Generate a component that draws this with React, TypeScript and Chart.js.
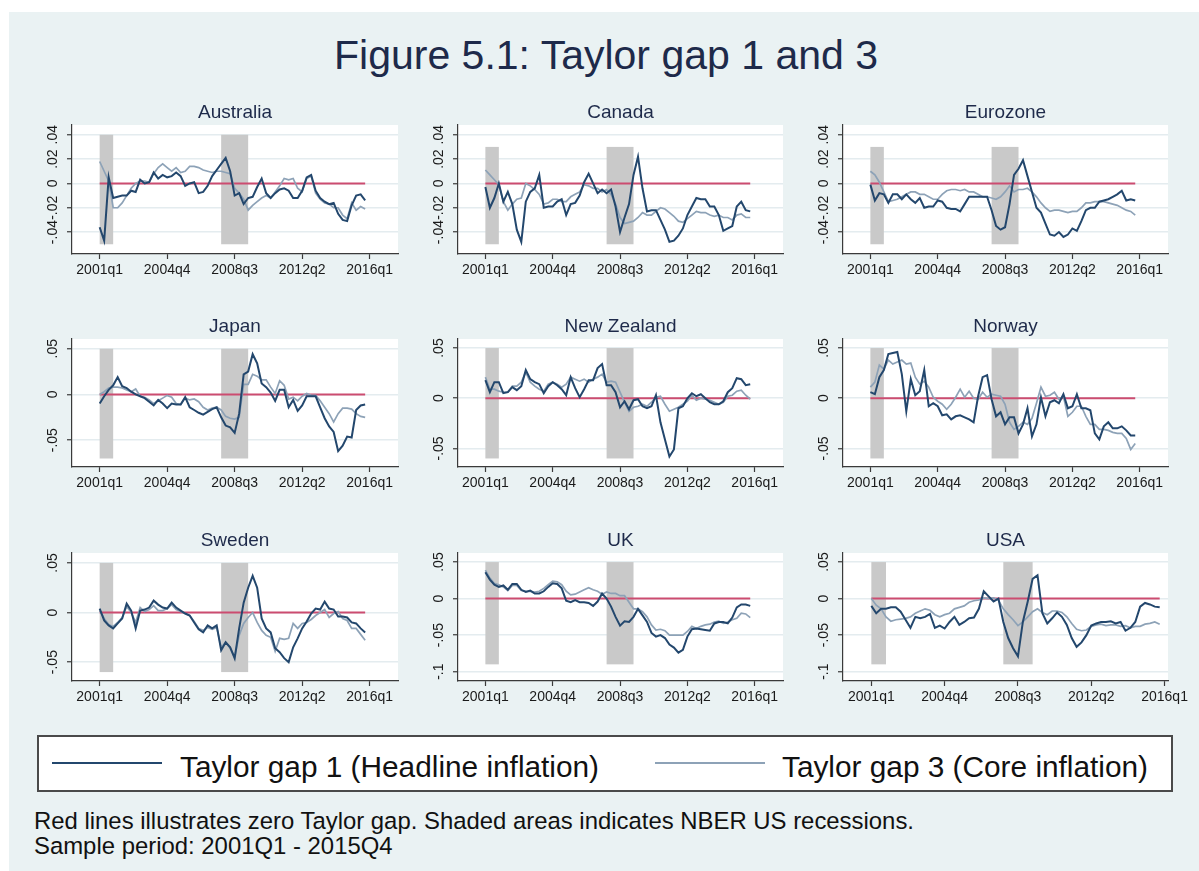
import React, { useEffect, useRef } from "react";
import { Chart, registerables } from "chart.js";

Chart.register(...registerables);

const FONT = '"Liberation Sans", Arial, Helvetica, sans-serif';

// ---------- data ----------
const X_TICKS = [0, 15, 30, 45, 60];
const X_LABELS = ["2001q1", "2004q4", "2008q3", "2012q2", "2016q1"];
const RECESSION_START = [0, 27];
const RECESSION_END = [3, 33];
const ZERO_FROM = 0;
const ZERO_TO = 59;

const Y_TICKS_A = [-0.04, -0.02, 0, 0.02, 0.04];
const Y_LABELS_A = ["-.04", "-.02", "0", ".02", ".04"];
const Y_TICKS_B = [-0.05, 0, 0.05];
const Y_LABELS_B = ["-.05", "0", ".05"];
const Y_TICKS_C = [-0.1, -0.05, 0, 0.05];
const Y_LABELS_C = ["-.1", "-.05", "0", ".05"];

const AUS_G1 = [-0.036,-0.047,0.005,-0.012,-0.011,-0.010,-0.010,-0.006,-0.007,0.003,0.000,0.001,0.009,0.004,0.007,0.005,0.006,0.009,0.006,-0.002,0.000,0.001,-0.008,-0.007,-0.002,0.006,0.011,0.016,0.021,0.010,-0.010,-0.008,-0.017,-0.012,-0.011,-0.003,0.004,-0.008,-0.012,-0.008,-0.005,-0.004,-0.006,-0.012,-0.012,-0.006,0.005,0.007,-0.006,-0.012,-0.015,-0.017,-0.016,-0.025,-0.030,-0.031,-0.018,-0.010,-0.009,-0.014];
const AUS_G3 = [0.018,0.010,0.002,-0.020,-0.020,-0.016,-0.010,-0.004,0.000,0.002,0.002,0.001,0.008,0.013,0.016,0.013,0.010,0.013,0.009,0.010,0.014,0.014,0.013,0.011,0.010,0.009,0.010,0.010,0.009,0.008,-0.004,-0.008,-0.013,-0.022,-0.018,-0.015,-0.012,-0.010,-0.012,-0.007,-0.002,0.004,0.003,0.004,-0.004,-0.007,0.004,0.006,-0.008,-0.013,-0.016,-0.017,-0.020,-0.020,-0.026,-0.029,-0.016,-0.022,-0.019,-0.021];

const CAN_G1 = [-0.003,-0.020,-0.012,0.000,-0.015,-0.007,-0.017,-0.038,-0.048,-0.015,-0.007,-0.004,0.007,-0.020,-0.019,-0.019,-0.015,-0.013,-0.026,-0.017,-0.016,-0.010,0.001,0.008,0.000,-0.008,-0.005,-0.008,-0.005,-0.019,-0.040,-0.028,-0.017,0.007,0.022,-0.004,-0.023,-0.022,-0.022,-0.030,-0.038,-0.048,-0.047,-0.043,-0.037,-0.026,-0.019,-0.012,-0.013,-0.013,-0.019,-0.019,-0.026,-0.039,-0.037,-0.035,-0.019,-0.015,-0.022,-0.023];
const CAN_G3 = [0.011,0.007,0.003,-0.001,-0.015,-0.022,-0.017,-0.013,-0.012,0.000,-0.002,-0.005,-0.009,-0.017,-0.016,-0.013,-0.013,-0.015,-0.015,-0.011,-0.009,-0.007,-0.001,-0.002,-0.004,-0.004,-0.007,-0.005,-0.009,-0.017,-0.028,-0.033,-0.032,-0.031,-0.028,-0.024,-0.026,-0.026,-0.023,-0.020,-0.021,-0.024,-0.027,-0.031,-0.032,-0.029,-0.026,-0.023,-0.024,-0.024,-0.026,-0.027,-0.026,-0.028,-0.028,-0.030,-0.026,-0.025,-0.028,-0.028];

const EUR_G1 = [-0.001,-0.014,-0.008,-0.009,-0.016,-0.009,-0.009,-0.013,-0.009,-0.013,-0.016,-0.012,-0.020,-0.019,-0.019,-0.014,-0.015,-0.020,-0.021,-0.021,-0.023,-0.017,-0.011,-0.011,-0.011,-0.011,-0.011,-0.022,-0.035,-0.038,-0.036,-0.017,0.007,0.012,0.019,0.006,-0.007,-0.020,-0.024,-0.033,-0.042,-0.043,-0.040,-0.044,-0.042,-0.037,-0.039,-0.031,-0.022,-0.020,-0.020,-0.015,-0.014,-0.013,-0.011,-0.009,-0.006,-0.014,-0.013,-0.014];
const EUR_G3 = [0.010,0.007,0.001,-0.007,-0.015,-0.014,-0.013,-0.011,-0.009,-0.007,-0.007,-0.009,-0.009,-0.011,-0.013,-0.013,-0.009,-0.006,-0.005,-0.005,-0.006,-0.005,-0.007,-0.007,-0.009,-0.011,-0.011,-0.012,-0.013,-0.011,-0.007,-0.002,-0.007,-0.005,-0.005,-0.004,-0.007,-0.011,-0.016,-0.020,-0.023,-0.022,-0.022,-0.023,-0.024,-0.023,-0.023,-0.020,-0.016,-0.016,-0.015,-0.015,-0.015,-0.016,-0.017,-0.018,-0.020,-0.022,-0.023,-0.026];

const JPN_G1 = [-0.010,-0.002,0.005,0.010,0.019,0.009,0.007,0.003,0.000,-0.002,-0.004,-0.008,-0.012,-0.006,-0.010,-0.015,-0.010,-0.011,-0.011,-0.003,-0.014,-0.017,-0.020,-0.022,-0.019,-0.016,-0.014,-0.025,-0.034,-0.036,-0.042,-0.021,0.022,0.025,0.044,0.034,0.012,0.008,0.002,-0.007,0.005,0.005,-0.014,-0.006,-0.018,-0.012,-0.002,-0.002,-0.002,-0.014,-0.026,-0.035,-0.041,-0.062,-0.056,-0.046,-0.047,-0.017,-0.012,-0.011];
const JPN_G3 = [0.000,0.003,0.007,0.008,0.008,0.007,0.005,0.003,0.006,-0.002,-0.003,-0.006,-0.010,-0.007,-0.004,-0.001,-0.003,-0.010,-0.011,-0.004,-0.006,-0.005,-0.008,-0.014,-0.017,-0.015,-0.014,-0.017,-0.024,-0.026,-0.027,-0.025,0.011,0.011,0.022,0.020,0.016,0.016,0.008,0.001,0.015,0.010,-0.005,-0.003,-0.007,-0.002,0.001,-0.001,-0.001,-0.007,-0.014,-0.021,-0.030,-0.021,-0.015,-0.015,-0.016,-0.021,-0.024,-0.025];

const NZL_G1 = [0.018,0.006,0.016,0.016,0.005,0.006,0.011,0.008,0.012,0.028,0.019,0.016,0.014,0.005,0.012,0.016,0.013,0.009,0.003,0.021,0.010,0.001,0.009,0.018,0.018,0.030,0.034,0.013,0.013,0.006,-0.009,-0.003,-0.011,-0.002,-0.001,-0.008,-0.010,-0.008,0.003,-0.024,-0.041,-0.058,-0.051,-0.010,-0.008,0.000,0.005,0.002,0.004,0.000,-0.004,-0.006,-0.006,-0.003,0.006,0.010,0.020,0.019,0.013,0.014];
const NZL_G3 = [0.021,0.009,0.009,0.007,0.006,0.006,0.012,0.012,0.016,0.026,0.016,0.012,0.009,0.007,0.014,0.016,0.014,0.011,0.014,0.021,0.019,0.017,0.019,0.016,0.019,0.021,0.024,0.016,0.017,0.016,0.006,-0.004,-0.013,-0.009,-0.008,-0.006,-0.008,-0.004,0.001,0.002,-0.006,-0.013,-0.011,-0.009,-0.006,-0.003,0.003,-0.002,0.000,-0.001,-0.002,-0.004,-0.006,-0.004,0.002,0.003,0.007,0.008,0.003,-0.001];

const NOR_G1 = [0.006,0.004,0.021,0.028,0.044,0.045,0.046,0.024,-0.013,0.019,0.003,0.007,0.028,-0.008,-0.005,-0.008,-0.017,-0.016,-0.021,-0.018,-0.017,-0.019,-0.021,-0.024,0.002,0.021,0.023,-0.001,-0.018,-0.014,-0.026,-0.019,-0.019,-0.035,-0.026,-0.010,-0.038,-0.026,0.001,-0.018,-0.004,-0.002,-0.005,0.004,-0.010,-0.008,0.004,-0.010,-0.010,-0.012,-0.035,-0.041,-0.028,-0.024,-0.030,-0.030,-0.028,-0.032,-0.037,-0.037];
const NOR_G3 = [0.011,0.016,0.033,0.029,0.038,0.034,0.036,0.038,0.034,0.035,0.021,0.014,0.017,0.011,0.001,-0.003,-0.006,-0.011,-0.006,0.001,0.009,0.001,0.007,0.000,-0.001,0.006,0.001,0.004,0.003,0.002,-0.006,-0.024,-0.031,-0.028,-0.024,-0.026,-0.020,-0.005,0.011,0.002,0.003,0.006,-0.001,0.002,-0.018,-0.014,-0.008,-0.008,-0.018,-0.026,-0.026,-0.031,-0.031,-0.032,-0.034,-0.035,-0.035,-0.040,-0.051,-0.045];

const SWE_G1 = [0.004,-0.008,-0.013,-0.016,-0.011,-0.006,0.009,0.002,-0.016,0.002,0.003,0.005,0.012,0.008,0.005,0.004,0.010,0.005,0.002,-0.001,-0.003,-0.010,-0.017,-0.020,-0.013,-0.016,-0.013,-0.038,-0.030,-0.035,-0.046,-0.016,0.010,0.025,0.037,0.025,-0.006,-0.016,-0.020,-0.036,-0.040,-0.046,-0.050,-0.035,-0.026,-0.016,-0.009,-0.001,0.004,0.003,0.011,0.004,0.003,-0.004,-0.004,-0.005,-0.010,-0.011,-0.016,-0.020];
const SWE_G3 = [0.002,-0.006,-0.012,-0.014,-0.010,-0.005,0.006,0.000,-0.010,0.005,0.001,0.003,0.007,0.002,0.002,0.004,0.008,0.003,0.001,-0.001,-0.003,-0.009,-0.016,-0.018,-0.015,-0.017,-0.015,-0.035,-0.030,-0.036,-0.045,-0.023,-0.011,-0.005,0.000,-0.010,-0.018,-0.023,-0.025,-0.039,-0.026,-0.027,-0.026,-0.011,-0.016,-0.011,-0.010,-0.007,-0.003,0.000,0.003,-0.005,-0.001,0.001,-0.006,-0.008,-0.016,-0.016,-0.022,-0.028];

const GBR_G1 = [0.036,0.026,0.019,0.016,0.018,0.012,0.020,0.020,0.012,0.009,0.011,0.007,0.007,0.010,0.016,0.021,0.020,0.014,-0.003,-0.005,-0.002,-0.005,-0.005,-0.006,-0.010,-0.004,0.007,0.000,-0.011,-0.025,-0.037,-0.031,-0.032,-0.025,-0.014,-0.023,-0.032,-0.047,-0.052,-0.050,-0.054,-0.063,-0.067,-0.074,-0.070,-0.052,-0.042,-0.041,-0.042,-0.043,-0.044,-0.034,-0.032,-0.032,-0.034,-0.026,-0.012,-0.008,-0.008,-0.010];
const GBR_G3 = [0.039,0.028,0.021,0.019,0.016,0.011,0.018,0.018,0.011,0.010,0.010,0.009,0.010,0.014,0.019,0.024,0.023,0.019,0.010,0.005,0.006,0.009,0.012,0.015,0.012,0.010,0.006,0.009,0.007,0.007,0.004,0.004,-0.005,-0.014,-0.014,-0.018,-0.025,-0.036,-0.043,-0.042,-0.044,-0.050,-0.050,-0.050,-0.050,-0.045,-0.038,-0.041,-0.038,-0.036,-0.035,-0.032,-0.031,-0.034,-0.032,-0.029,-0.027,-0.020,-0.021,-0.026];

const USA_G1 = [-0.010,-0.020,-0.014,-0.014,-0.012,-0.012,-0.018,-0.029,-0.040,-0.025,-0.027,-0.025,-0.021,-0.040,-0.037,-0.041,-0.032,-0.025,-0.036,-0.032,-0.027,-0.026,-0.014,0.010,0.003,-0.004,0.000,-0.032,-0.054,-0.068,-0.079,-0.032,-0.004,0.027,0.032,-0.020,-0.034,-0.027,-0.019,-0.025,-0.036,-0.054,-0.066,-0.060,-0.050,-0.037,-0.034,-0.032,-0.032,-0.031,-0.034,-0.032,-0.044,-0.040,-0.032,-0.011,-0.006,-0.008,-0.011,-0.012];
const USA_G3 = [0.000,-0.009,-0.014,-0.025,-0.031,-0.029,-0.028,-0.027,-0.025,-0.020,-0.017,-0.014,-0.016,-0.022,-0.025,-0.022,-0.020,-0.014,-0.012,-0.010,-0.005,-0.003,-0.002,0.001,0.000,0.001,-0.002,-0.014,-0.022,-0.029,-0.037,-0.032,-0.025,-0.018,-0.014,-0.019,-0.022,-0.017,-0.017,-0.019,-0.025,-0.034,-0.042,-0.044,-0.043,-0.038,-0.036,-0.035,-0.037,-0.036,-0.036,-0.038,-0.037,-0.040,-0.038,-0.038,-0.035,-0.034,-0.032,-0.035];

// ---------- styles ----------
const DARK = "#23476d";
const LIGHT = "#8da2b7";
const RED = "#cc4c70";
const SHADE = "#c9c9c9";
const GRID = "#e4ecef";
const AXIS = "#3a3a3a";
const TEXT = "#1a1a1a";
const TITLE = "#1e2a4a";

const Y_AXIS_W = 62;
const TITLE_H = 26;
const X_AXIS_H = 30;
const PAD_R = 30;

type Spec = {
  name: string;
  g1: number[];
  g3: number[];
  yTicks: number[];
  yLabels: string[];
  yMin: number;
  yMax: number;
  shadeTop: number;
  shadeBottom: number;
  xMin: number;
  xMax: number;
  area: number[]; // left, top, right, bottom of plot region on page
};

const PANELS: Spec[] = [
  { name: "Australia", g1: AUS_G1, g3: AUS_G3, yTicks: Y_TICKS_A, yLabels: Y_LABELS_A, yMin: -0.058, yMax: 0.048, shadeTop: 0.04, shadeBottom: -0.05, xMin: -6.15, xMax: 66.3, area: [72, 125, 398, 254] },
  { name: "Canada", g1: CAN_G1, g3: CAN_G3, yTicks: Y_TICKS_A, yLabels: Y_LABELS_A, yMin: -0.058, yMax: 0.048, shadeTop: 0.03, shadeBottom: -0.05, xMin: -6.1, xMax: 66.3, area: [458, 125, 783, 254] },
  { name: "Eurozone", g1: EUR_G1, g3: EUR_G3, yTicks: Y_TICKS_A, yLabels: Y_LABELS_A, yMin: -0.058, yMax: 0.048, shadeTop: 0.03, shadeBottom: -0.05, xMin: -6.1, xMax: 66.3, area: [843, 125, 1168, 254] },
  { name: "Japan", g1: JPN_G1, g3: JPN_G3, yTicks: Y_TICKS_B, yLabels: Y_LABELS_B, yMin: -0.0793, yMax: 0.0606, shadeTop: 0.05, shadeBottom: -0.07, xMin: -6.15, xMax: 66.3, area: [72, 339, 398, 467] },
  { name: "New Zealand", g1: NZL_G1, g3: NZL_G3, yTicks: Y_TICKS_B, yLabels: Y_LABELS_B, yMin: -0.0685, yMax: 0.059, shadeTop: 0.05, shadeBottom: -0.06, xMin: -6.1, xMax: 66.3, area: [458, 339, 783, 467] },
  { name: "Norway", g1: NOR_G1, g3: NOR_G3, yTicks: Y_TICKS_B, yLabels: Y_LABELS_B, yMin: -0.0685, yMax: 0.059, shadeTop: 0.05, shadeBottom: -0.06, xMin: -6.1, xMax: 66.3, area: [843, 339, 1168, 467] },
  { name: "Sweden", g1: SWE_G1, g3: SWE_G3, yTicks: Y_TICKS_B, yLabels: Y_LABELS_B, yMin: -0.069, yMax: 0.060, shadeTop: 0.05, shadeBottom: -0.06, xMin: -6.15, xMax: 66.3, area: [72, 553, 398, 681] },
  { name: "UK", g1: GBR_G1, g3: GBR_G3, yTicks: Y_TICKS_C, yLabels: Y_LABELS_C, yMin: -0.1128, yMax: 0.0624, shadeTop: 0.05, shadeBottom: -0.09, xMin: -6.1, xMax: 66.3, area: [458, 553, 783, 681] },
  { name: "USA", g1: USA_G1, g3: USA_G3, yTicks: Y_TICKS_C, yLabels: Y_LABELS_C, yMin: -0.1128, yMax: 0.0624, shadeTop: 0.05, shadeBottom: -0.09, xMin: -5.8, xMax: 60.7, area: [843, 553, 1168, 681] },
];

const decorPlugin = {
  id: "decor",
  beforeDraw(chart: any) {
    const { ctx, chartArea: a } = chart;
    ctx.save();
    ctx.fillStyle = "#ffffff";
    ctx.fillRect(a.left, a.top, a.right - a.left, a.bottom - a.top);
    ctx.restore();
  },
  beforeDatasetsDraw(chart: any, _args: any, opts: any) {
    const { ctx } = chart;
    const xs = chart.scales.x;
    const ys = chart.scales.y;
    ctx.save();
    ctx.fillStyle = SHADE;
    for (let k = 0; k < RECESSION_START.length; k++) {
      const x1 = xs.getPixelForValue(RECESSION_START[k]);
      const x2 = xs.getPixelForValue(RECESSION_END[k]);
      const y1 = ys.getPixelForValue(opts.shadeTop);
      const y2 = ys.getPixelForValue(opts.shadeBottom);
      ctx.fillRect(x1, y1, x2 - x1, y2 - y1);
    }
    ctx.restore();
  },
  afterDraw(chart: any, _args: any, opts: any) {
    const { ctx, chartArea: a } = chart;
    const ys = chart.scales.y;
    ctx.save();
    ctx.fillStyle = TEXT;
    ctx.font = `14px ${FONT}`;
    ctx.textAlign = "center";
    ctx.textBaseline = "middle";
    const ticks: number[] = opts.yTicks;
    const labels: string[] = opts.yLabels;
    for (let i = 0; i < ticks.length; i++) {
      const y = ys.getPixelForValue(ticks[i]);
      ctx.save();
      ctx.translate(a.left - 19, y);
      ctx.rotate(-Math.PI / 2);
      ctx.fillText(labels[i], 0, 0);
      ctx.restore();
    }
    ctx.restore();
  },
};

function Panel({ spec }: { spec: Spec }) {
  const ref = useRef<HTMLCanvasElement | null>(null);
  const [L, T, R, B] = spec.area;
  const left = L - Y_AXIS_W;
  const top = T - TITLE_H;
  const width = Y_AXIS_W + (R - L) + PAD_R;
  const height = TITLE_H + (B - T) + X_AXIS_H;

  useEffect(() => {
    if (!ref.current) return;
    const chart = new Chart(ref.current, {
      type: "line",
      data: {
        datasets: [
          {
            label: "Taylor gap 1 (Headline inflation)",
            data: spec.g1.map((v, i) => ({ x: i, y: v })),
            borderColor: DARK,
            borderWidth: 2,
            pointRadius: 0,
            tension: 0,
          },
          {
            label: "Taylor gap 3 (Core inflation)",
            data: spec.g3.map((v, i) => ({ x: i, y: v })),
            borderColor: LIGHT,
            borderWidth: 1.7,
            pointRadius: 0,
            tension: 0,
          },
          {
            label: "Zero Taylor gap",
            data: [
              { x: ZERO_FROM, y: 0 },
              { x: ZERO_TO, y: 0 },
            ],
            borderColor: RED,
            borderWidth: 2,
            pointRadius: 0,
          },
        ],
      } as any,
      options: {
        animation: false,
        responsive: false,
        devicePixelRatio: 1,
        events: [],
        layout: { padding: { left: 0, right: PAD_R, top: 0, bottom: 0 } },
        plugins: {
          legend: { display: false },
          tooltip: { enabled: false },
          title: {
            display: true,
            text: spec.name,
            color: TITLE,
            fullSize: false,
            font: { family: FONT, size: 19, weight: "normal", lineHeight: 1.2 },
            padding: { top: 2, bottom: 1.2 },
          },
          decor: {
            shadeTop: spec.shadeTop,
            shadeBottom: spec.shadeBottom,
            yTicks: spec.yTicks,
            yLabels: spec.yLabels,
          },
        } as any,
        scales: {
          x: {
            type: "linear",
            min: spec.xMin,
            max: spec.xMax,
            afterBuildTicks: (s: any) => {
              s.ticks = X_TICKS.map((v) => ({ value: v }));
            },
            afterFit: (s: any) => {
              s.height = X_AXIS_H;
              s.paddingLeft = 0;
              s.paddingRight = 0;
            },
            ticks: {
              autoSkip: false,
              maxRotation: 0,
              minRotation: 0,
              padding: 3,
              color: TEXT,
              font: { family: FONT, size: 14 },
              callback: (_v: any, i: number) => X_LABELS[i],
            },
            grid: {
              drawOnChartArea: false,
              drawTicks: true,
              tickLength: 5,
              tickColor: AXIS,
              tickWidth: 1.2,
            },
            border: { display: true, color: AXIS, width: 1.2 },
          },
          y: {
            type: "linear",
            min: spec.yMin,
            max: spec.yMax,
            afterBuildTicks: (s: any) => {
              s.ticks = spec.yTicks.map((v) => ({ value: v }));
            },
            afterFit: (s: any) => {
              s.width = Y_AXIS_W;
              s.paddingTop = 0;
              s.paddingBottom = 0;
            },
            ticks: { display: false },
            grid: {
              drawOnChartArea: true,
              drawTicks: true,
              tickLength: 5,
              color: GRID,
              lineWidth: 1.5,
              tickColor: AXIS,
              tickWidth: 1.2,
            },
            border: { display: true, color: AXIS, width: 1.2 },
          },
        } as any,
      },
      plugins: [decorPlugin as any],
    });
    return () => chart.destroy();
  }, []);

  return (
    <canvas
      ref={ref}
      width={width}
      height={height}
      style={{ position: "absolute", left, top, width, height }}
    />
  );
}

export default function App() {
  return (
    <div
      style={{
        position: "absolute",
        left: 0,
        top: 0,
        width: 1199,
        height: 871,
        background: "#ffffff",
        overflow: "hidden",
        fontFamily: FONT,
      }}
    >
      <div style={{ position: "absolute", left: 9, top: 12, width: 1190, height: 859, background: "#eaf2f3" }} />
      <div
        style={{
          position: "absolute",
          left: 306,
          top: 35,
          width: 600,
          textAlign: "center",
          fontSize: 41,
          lineHeight: "41px",
          color: TITLE,
          whiteSpace: "nowrap",
        }}
      >
        Figure 5.1: Taylor gap 1 and 3
      </div>
      {PANELS.map((p) => (
        <Panel key={p.name} spec={p} />
      ))}
      <div
        style={{
          position: "absolute",
          left: 37,
          top: 735,
          width: 1136,
          height: 57,
          boxSizing: "border-box",
          border: "2px solid #4a4a4a",
          background: "#ffffff",
        }}
      />
      <div style={{ position: "absolute", left: 52, top: 762, width: 110, height: 2, background: DARK }} />
      <div
        style={{ position: "absolute", left: 180, top: 752, fontSize: 29.8, lineHeight: "29.8px", color: "#111", whiteSpace: "nowrap" }}
      >
        Taylor gap 1 (Headline inflation)
      </div>
      <div style={{ position: "absolute", left: 655, top: 762, width: 110, height: 2, background: LIGHT }} />
      <div
        style={{ position: "absolute", left: 782, top: 752, fontSize: 29.8, lineHeight: "29.8px", color: "#111", whiteSpace: "nowrap" }}
      >
        Taylor gap 3 (Core inflation)
      </div>
      <div
        style={{ position: "absolute", left: 34, top: 807.5, fontSize: 23.9, lineHeight: "25px", color: "#111", whiteSpace: "nowrap" }}
      >
        Red lines illustrates zero Taylor gap. Shaded areas indicates NBER US recessions.
        <br />
        Sample period: 2001Q1 - 2015Q4
      </div>
    </div>
  );
}
